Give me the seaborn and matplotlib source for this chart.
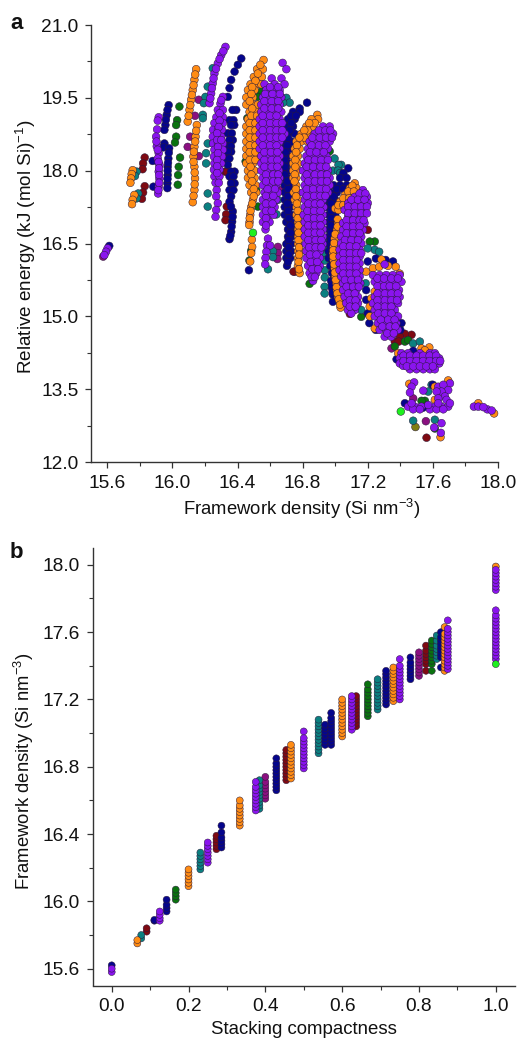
import matplotlib
matplotlib.use("Agg")
import matplotlib.pyplot as plt
from matplotlib.ticker import MultipleLocator
import pandas as pd
import seaborn as sns

sns.set_style("ticks")
plt.rcParams['font.family'] = ['Liberation Sans', 'DejaVu Sans']
plt.rcParams['mathtext.fontset'] = 'custom'
plt.rcParams['mathtext.rm'] = 'Liberation Sans'
plt.rcParams['mathtext.default'] = 'regular'
plt.rcParams['axes.unicode_minus'] = True

series_order = ['darkred', 'magenta', 'olive', 'green', 'teal', 'navy', 'orange', 'purple', 'lime']
palette = {'darkred': '#7E0A12', 'magenta': '#8A1080', 'olive': '#7F7F14', 'green': '#0A720F',
           'teal': '#0B8080', 'navy': '#05058C', 'orange': '#FF8C14', 'purple': '#8A14EE', 'lime': '#1EF01E'}

# Panel a: each row is (relative energy, [framework densities])
a_darkred = [(18.27, [15.83]), (18.15, [15.82]), (18.03, [15.817]), (17.68, [15.83]), (17.55, [15.82]),
             (17.42, [15.813]), (17.98, [16.324, 16.335]), (17.26, [16.334]), (17.1, [16.33]), (16.98, [16.326]),
             (16.67, [16.741]), (15.92, [16.751, 16.744]), (16.78, [17.2]), (15.05, [17.09]),
             (14.62, [17.469]), (14.64, [17.428]), (14.58, [17.397]), (14.48, [17.366, 17.39]), (12.5, [17.561])]
a_magenta = [(19.46, [16.162]), (19.13, [16.139]), (18.7, [16.109]), (18.49, [16.094]), (18.3, [16.162]),
             (16.43, [16.648]), (16.3, [16.648]), (16.18, [16.645]), (17.6, [16.659]), (18.94, [16.7]),
             (14.34, [17.346]), (13.31, [17.479]), (12.84, [17.557]), (16.23, [15.575])]
a_olive = [(12.72, [17.493])]
a_green = [(19.32, [16.043]), (19.04, [16.029]), (18.94, [16.023]), (18.7, [16.023]), (18.58, [16.016]),
           (18.27, [16.047]), (18.08, [16.039]), (17.91, [16.035]), (17.71, [16.033]),
           (19.63, [16.546]), (19.52, [16.523]), (19.08, [16.46]), (18.19, [16.45]), (17.26, [16.525]),
           (17.6, [16.515]), (16.35, [16.484]), (16.15, [16.473]), (18.4, [16.966]), (15.67, [16.843]),
           (16.54, [17.243, 17.212]), (14.99, [17.16]), (14.38, [17.366]), (14.48, [17.428]), (14.51, [17.448]),
           (13.26, [17.551, 17.53]), (12.69, [17.612])]
a_teal = [(17.98, [15.78]), (17.89, [15.77]), (17.53, [15.79]), (17.43, [15.78]), (19.15, [16.187]), (19.08, [16.187]),
          (20.11, [16.248]), (19.73, [16.217]), (19.52, [16.203]), (19.39, [16.193]), (18.56, [16.217]),
          (18.36, [16.207]), (18.15, [16.207]), (17.53, [16.217]), (17.26, [16.217]),
          (16.34, [16.618]), (16.22, [16.618]), (15.97, [16.587]), (19.5, [16.669, 16.7]), (19.4, [16.72, 16.68]),
          (17.4, [16.648]), (17.1, [16.64]), (18.25, [16.996]), (18.12, [17.037, 17.02]), (18.0, [16.986, 17.017]),
          (17.95, [17.03]), (17.3, [16.956]), (16.5, [16.936]), (16.3, [16.936]), (16.15, [16.936]), (15.95, [16.936]),
          (15.8, [16.936]), (15.61, [16.935]), (15.47, [16.935]), (16.43, [16.935]), (17.33, [16.976]), (16.37, [17.243]),
          (16.33, [17.27]), (16.4, [17.2]), (15.68, [17.187]), (15.13, [17.16]), (14.44, [17.479]), (14.48, [17.52]),
          (13.59, [17.592]), (13.45, [17.571]), (12.85, [17.479]), (12.87, [17.612])]
a_navy = [(16.45, [15.612]), (19.35, [15.977]), (19.15, [15.965]), (18.94, [15.957]), (18.84, [15.951]), (18.56, [15.951]),
          (18.48, [15.945]), (18.46, [15.98]), (18.25, [15.975]), (18.08, [15.971]), (17.91, [15.971]), (17.74, [15.969]),
          (17.64, [15.969]), (18.2, [15.879]), (17.67, [15.883]),
          (20.31, [16.423]), (20.18, [16.402]), (20.04, [16.382]), (19.87, [16.361]), (19.7, [16.351]), (19.52, [16.34]),
          (19.25, [16.392, 16.37]), (19.04, [16.351, 16.375]), (18.94, [16.38, 16.36]), (18.77, [16.34, 16.365]),
          (18.63, [16.371, 16.35]), (18.5, [16.34, 16.36]), (18.39, [16.361, 16.34]), (18.25, [16.33, 16.35]),
          (18.12, [16.34]), (17.98, [16.382, 16.36]), (17.88, [16.351, 16.375]), (17.74, [16.382, 16.36]),
          (17.6, [16.351, 16.375]), (17.47, [16.361]), (17.36, [16.351]), (17.16, [16.371]), (16.95, [16.367]),
          (16.74, [16.361]), (16.59, [16.351]), (15.95, [16.47]),
          (19.4, [16.827]), (19.28, [16.782]), (19.21, [16.741, 16.782]), (19.06, [16.71, 16.751]), (18.91, [16.7, 16.741]),
          (18.76, [16.71, 16.751]), (18.6, [16.69, 16.73]), (18.45, [16.679, 16.72]), (18.3, [16.669, 16.71]),
          (18.15, [16.669, 16.71]), (18.0, [16.669, 16.71]), (17.85, [16.669, 16.71, 16.741]), (17.7, [16.69, 16.73]),
          (17.55, [16.69, 16.73]), (17.4, [16.69, 16.72]), (17.25, [16.69, 16.724]), (17.09, [16.69, 16.73]),
          (16.94, [16.7, 16.73]), (16.79, [16.71, 16.741]), (16.64, [16.71, 16.73]), (16.49, [16.7, 16.73]),
          (16.34, [16.7, 16.73]), (16.2, [16.7, 16.724]), (16.04, [16.704]),
          (18.05, [17.08]), (17.95, [17.05]), (17.85, [17.03, 17.07]), (17.7, [16.99, 17.03, 17.07]), (17.55, [16.97, 17.01]),
          (17.4, [16.96, 17.0]), (17.25, [16.95, 16.99]), (17.09, [16.96, 17.0]), (16.94, [16.96, 16.99]),
          (16.79, [16.96, 16.99]), (16.64, [16.96, 16.99]), (16.49, [16.96, 16.99]), (16.34, [16.96, 16.99]),
          (16.2, [16.96, 16.99]), (16.04, [16.97, 17.0]), (15.89, [16.98, 17.01]), (15.73, [16.975]), (15.58, [16.98]),
          (15.45, [16.985]), (15.3, [16.986]),
          (16.13, [17.2, 17.355]), (16.19, [17.25]), (16.16, [17.31]), (15.54, [17.19]), (15.34, [17.19]), (15.06, [17.2]),
          (14.86, [17.21, 17.407]), (14.72, [17.25, 17.4]), (14.29, [17.479]), (14.115, [17.377]),
          (13.59, [17.6]), (13.21, [17.428]), (13.12, [17.54])]
a_navy_fill = [(19.25, [15.97]), (19.05, [15.96]), (18.37, [15.978]), (18.16, [15.973]), (18.0, [15.971]), (17.83, [15.97]),
               (17.26, [16.36]), (17.05, [16.37]), (16.85, [16.364]), (16.66, [16.356]),
               (19.13, [16.73, 16.76]), (18.98, [16.73]), (18.83, [16.72]), (18.68, [16.71]), (18.52, [16.705]), (18.38, [16.695]),
               (18.22, [16.69]), (18.08, [16.69]), (17.92, [16.69]), (17.78, [16.705]), (17.62, [16.71]), (17.47, [16.71]),
               (17.32, [16.705]), (17.17, [16.71]), (17.02, [16.715]), (16.87, [16.725]), (16.72, [16.725]), (16.57, [16.715]),
               (16.42, [16.715]), (16.27, [16.715]), (16.12, [16.71]),
               (17.62, [17.01, 17.05]), (17.47, [16.99]), (17.32, [16.975]), (17.17, [16.975]), (17.02, [16.975]), (16.87, [16.975]),
               (16.72, [16.975]), (16.57, [16.975]), (16.42, [16.975]), (16.27, [16.975]), (16.12, [16.985]), (15.97, [16.99]),
               (15.81, [16.995]), (15.65, [16.98]), (15.5, [16.985])]
a_orange = [(18.01, [15.756]), (17.93, [15.75]), (17.84, [15.746]), (17.75, [15.742]), (17.5, [15.766]), (17.4, [15.756]),
            (17.31, [15.752]),
            (20.09, [16.146]), (19.87, [16.135]), (19.66, [16.125]), (19.46, [16.115]), (19.25, [16.105]), (19.01, [16.094]),
            (18.94, [16.15]), (18.7, [16.142]), (18.49, [16.135]), (18.29, [16.129]), (18.08, [16.135]), (17.84, [16.139]),
            (17.6, [16.135]), (17.35, [16.125]),
            (20.28, [16.56]), (20.09, [16.52, 16.556]), (19.93, [16.5, 16.55]), (19.78, [16.48, 16.52, 16.545]),
            (19.66, [16.464, 16.505]), (19.51, [16.454, 16.495]), (19.36, [16.454, 16.495, 16.525]), (19.21, [16.474, 16.515]),
            (19.06, [16.464, 16.505, 16.536]), (18.91, [16.454, 16.495, 16.525]), (18.76, [16.454, 16.495]),
            (18.6, [16.454, 16.495, 16.525]), (18.45, [16.454, 16.495, 16.525]), (18.3, [16.454, 16.495, 16.525]),
            (18.15, [16.454, 16.495]), (18.0, [16.464, 16.505]), (17.85, [16.464, 16.505]), (17.7, [16.474, 16.511]),
            (17.55, [16.484, 16.515]), (17.4, [16.495]), (17.25, [16.484]), (17.09, [16.478]), (16.94, [16.474]),
            (16.58, [16.488]), (16.43, [16.49]), (16.3, [16.484]), (16.13, [16.478]),
            (19.15, [16.89]), (19.06, [16.895, 16.854]), (18.91, [16.864, 16.823]), (18.76, [16.833, 16.792]),
            (18.6, [16.792, 16.761, 16.83]), (18.45, [16.782, 16.751]), (18.3, [16.771, 16.741]), (18.15, [16.771, 16.741]),
            (18.0, [16.771, 16.741]), (17.85, [16.761, 16.741]), (17.7, [16.761]), (17.55, [16.771, 16.745]),
            (17.4, [16.771, 16.751]), (17.25, [16.761]), (17.09, [16.761, 16.782]), (16.94, [16.771]), (16.79, [16.771]),
            (16.64, [16.771]), (16.49, [16.771]), (16.34, [16.771, 16.786]), (16.2, [16.771]), (16.04, [16.771]), (15.89, [16.782]),
            (17.74, [17.12]), (17.64, [17.09, 17.13]), (17.5, [17.06, 17.1]), (17.36, [17.03, 17.07]), (17.22, [17.0]), (17.19, [17.02]),
            (16.92, [17.017]), (16.78, [17.01]), (16.6, [16.996]), (16.43, [16.99]), (16.3, [16.986]), (16.16, [16.99]),
            (15.99, [16.996]), (15.82, [17.0]), (15.68, [17.007]), (15.54, [17.01]), (15.4, [17.017]), (15.3, [17.027]), (15.18, [17.033]),
            (16.17, [17.284]), (15.92, [17.19]), (15.99, [17.232]), (16.02, [17.27, 17.372]), (16.04, [17.325]), (15.88, [17.396]),
            (15.56, [17.284]), (15.51, [17.243]), (15.37, [17.222]), (15.2, [17.212]), (15.0, [17.212]), (14.75, [17.243]),
            (14.24, [17.387]), (14.34, [17.53]), (14.36, [17.578]), (14.3, [17.55]),
            (13.61, [17.455]), (13.68, [17.694]), (13.55, [17.612]), (13.28, [17.612]), (13.21, [17.879]), (13.0, [17.976]),
            (12.51, [17.647])]
a_orange_fill = [(19.98, [16.14]), (19.76, [16.13]), (19.56, [16.12]), (19.35, [16.11]), (19.13, [16.10]), (18.82, [16.146]), (18.6, [16.14]),
                 (18.39, [16.132]), (18.18, [16.13]), (17.96, [16.137]), (17.72, [16.137]), (17.48, [16.13]),
                 (20.18, [16.54]), (20.0, [16.525]), (19.85, [16.51]), (19.72, [16.49]), (19.58, [16.485]), (19.43, [16.475]),
                 (19.28, [16.49]), (19.13, [16.485, 16.52]), (18.98, [16.475, 16.51]), (18.83, [16.475, 16.51]), (18.68, [16.475, 16.51]),
                 (18.52, [16.475, 16.51]), (18.38, [16.475, 16.51]), (18.22, [16.475, 16.51]), (18.08, [16.48]), (17.92, [16.485]),
                 (17.78, [16.49]), (17.62, [16.5]), (17.47, [16.5]), (17.32, [16.49]), (17.17, [16.48]), (17.02, [16.475]), (16.88, [16.472]),
                 (18.98, [16.875, 16.84]), (18.83, [16.83, 16.81]), (18.68, [16.81, 16.78]), (18.52, [16.765]), (18.38, [16.76]),
                 (18.22, [16.755]), (18.08, [16.755]), (17.92, [16.752]), (17.78, [16.75]), (17.62, [16.758]), (17.47, [16.76]),
                 (17.32, [16.765]), (17.17, [16.77]), (17.02, [16.77]), (16.87, [16.775]), (16.72, [16.775]), (16.57, [16.775]),
                 (16.42, [16.778]), (16.27, [16.778]), (16.12, [16.775]), (15.97, [16.778]),
                 (17.69, [17.105]), (17.57, [17.08, 17.115]), (17.43, [17.05, 17.085]), (17.29, [17.02, 17.05]), (17.0, [17.015]),
                 (16.85, [17.015]), (16.69, [17.0]), (16.51, [16.993]), (16.36, [16.988]), (16.23, [16.988]), (16.07, [16.993]),
                 (15.9, [16.998]), (15.75, [17.003]), (15.6, [17.008]), (15.47, [17.013]), (15.35, [17.022]), (15.24, [17.03])]
a_purple = [(16.4, [15.602]), (16.33, [15.592]), (16.26, [15.582]),
            (19.1, [15.916]), (19.03, [15.91]), (18.85, [15.906]), (18.7, [15.9]), (18.5, [15.904]), (18.36, [15.916]),
            (18.25, [15.91]), (18.12, [15.92]), (17.98, [15.916]), (17.84, [15.92]), (17.67, [15.916]), (17.53, [15.912]),
            (20.55, [16.326]), (20.38, [16.3]), (20.21, [16.279]), (20.0, [16.258]), (19.8, [16.248]), (19.59, [16.238]), (19.39, [16.228]),
            (19.52, [16.31]), (19.38, [16.295]), (19.25, [16.279, 16.31]), (19.1, [16.27, 16.31]), (18.98, [16.258, 16.31]),
            (18.84, [16.25, 16.28, 16.305]), (18.7, [16.248, 16.3]), (18.56, [16.25, 16.28, 16.31]), (18.43, [16.258, 16.31]),
            (18.29, [16.255, 16.285, 16.305]), (18.15, [16.258, 16.3]), (18.02, [16.255, 16.29]), (17.88, [16.258, 16.289]),
            (17.75, [16.265, 16.285]), (17.6, [16.272]), (17.47, [16.269]), (17.33, [16.279]), (17.19, [16.269]), (17.05, [16.265]),
            (20.22, [16.677]), (20.09, [16.7]), (19.9, [16.61, 16.67]), (19.78, [16.566, 16.628, 16.689]),
            (19.66, [16.577, 16.618, 16.659]), (19.51, [16.556, 16.597, 16.638, 16.669]), (19.36, [16.546, 16.587, 16.628, 16.659]),
            (19.21, [16.546, 16.587, 16.628, 16.669]), (19.06, [16.536, 16.577, 16.618, 16.659]),
            (18.91, [16.536, 16.577, 16.618, 16.659]), (18.76, [16.536, 16.577, 16.618, 16.659, 16.69]),
            (18.6, [16.536, 16.577, 16.618, 16.659]), (18.45, [16.536, 16.577, 16.618, 16.659]),
            (18.3, [16.546, 16.587, 16.628, 16.659]), (18.15, [16.546, 16.587, 16.628, 16.659]),
            (18.0, [16.546, 16.587, 16.628, 16.655]), (17.85, [16.556, 16.597, 16.638, 16.659]), (17.7, [16.556, 16.597, 16.638]),
            (17.55, [16.566, 16.608, 16.648]), (17.4, [16.556, 16.597, 16.638]), (17.25, [16.556, 16.597, 16.628]),
            (17.09, [16.556, 16.597, 16.622]), (16.94, [16.556, 16.597]), (16.79, [16.572]),
            (16.6, [16.587]), (16.46, [16.581, 16.6]), (16.33, [16.577]), (16.2, [16.572]), (16.07, [16.57]),
            (18.91, [16.925, 16.966]), (18.76, [16.874, 16.915, 16.956, 16.987]), (18.6, [16.843, 16.884, 16.925, 16.966]),
            (18.45, [16.833, 16.874, 16.915, 16.956]), (18.3, [16.823, 16.864, 16.905, 16.946]),
            (18.15, [16.813, 16.854, 16.895, 16.936]), (18.0, [16.802, 16.843, 16.884, 16.925, 16.956]),
            (17.85, [16.813, 16.854, 16.895, 16.936, 16.966]), (17.7, [16.813, 16.854, 16.895, 16.936, 16.966]),
            (17.55, [16.802, 16.843, 16.884, 16.925, 16.956]), (17.4, [16.813, 16.854, 16.895, 16.925]),
            (17.25, [16.813, 16.854, 16.895, 16.929]), (17.09, [16.806, 16.847, 16.888, 16.925]),
            (16.94, [16.813, 16.854, 16.895, 16.925]), (16.79, [16.813, 16.854, 16.895, 16.925]),
            (16.64, [16.813, 16.854, 16.895, 16.925]), (16.49, [16.819, 16.86, 16.901, 16.925]),
            (16.34, [16.823, 16.864, 16.905]), (16.2, [16.823, 16.864, 16.905]), (16.04, [16.833, 16.874, 16.905]),
            (15.89, [16.843, 16.884]), (15.73, [16.864]),
            (17.6, [17.17]), (17.46, [17.12, 17.16, 17.195]), (17.33, [17.08, 17.12, 17.16, 17.2]),
            (17.19, [17.058, 17.1, 17.14, 17.18]), (17.05, [17.08, 17.12, 17.16]), (16.92, [17.048, 17.09, 17.13, 17.18]),
            (16.78, [17.048, 17.09, 17.13, 17.17]), (16.64, [17.037, 17.078, 17.12, 17.16]), (16.5, [17.037, 17.078, 17.12, 17.16]),
            (16.37, [17.027, 17.068, 17.109, 17.15]), (16.23, [17.027, 17.068, 17.109, 17.15]),
            (16.09, [17.027, 17.068, 17.109, 17.15]), (15.95, [17.027, 17.068, 17.109, 17.15]),
            (15.82, [17.037, 17.078, 17.12, 17.15]), (15.68, [17.048, 17.089, 17.13, 17.154]), (15.54, [17.048, 17.089, 17.13]),
            (15.4, [17.058, 17.099, 17.14]), (15.27, [17.068, 17.109, 17.14]), (15.13, [17.078, 17.12]), (15.06, [17.099]),
            (16.07, [17.304]), (15.85, [17.232, 17.273, 17.314, 17.355, 17.396]), (15.71, [17.243, 17.284, 17.325, 17.366, 17.407]),
            (15.54, [17.273, 17.314, 17.355, 17.392]), (15.4, [17.243, 17.284, 17.325, 17.366, 17.396]),
            (15.27, [17.232, 17.273, 17.314, 17.355, 17.386]), (15.13, [17.243, 17.284, 17.325, 17.366]),
            (15.0, [17.243, 17.284, 17.325, 17.366, 17.386]), (14.86, [17.263, 17.304, 17.345, 17.376]),
            (14.72, [17.273, 17.314, 17.355, 17.386]), (14.58, [17.304, 17.345]),
            (14.24, [17.407, 17.448, 17.52, 17.582, 17.612]), (14.135, [17.397, 17.438, 17.479, 17.52, 17.561, 17.602, 17.639]),
            (14.03, [17.397, 17.438, 17.479, 17.52, 17.561, 17.602, 17.639]), (13.98, [17.418]),
            (13.91, [17.459, 17.5, 17.541, 17.582, 17.612]),
            (13.64, [17.485]), (13.55, [17.469, 17.633]), (13.43, [17.459]), (13.47, [17.541]), (13.62, [17.705]), (13.59, [17.664]),
            (13.48, [17.694]), (13.45, [17.653, 17.623]), (13.35, [17.674]), (13.31, [17.633]), (13.28, [17.684]),
            (13.14, [17.448, 17.489, 17.53, 17.612, 17.653, 17.694, 17.852, 17.879]), (13.085, [17.479, 17.52, 17.582, 17.623, 17.664, 17.934]),
            (13.175, [17.571]), (13.21, [17.469, 17.633, 17.705]), (13.13, [17.91]), (13.06, [17.961]),
            (12.71, [17.608]), (12.8, [17.653]), (12.6, [17.649])]
a_purple_fill = [(20.46, [16.313]), (20.3, [16.29]), (20.1, [16.268]), (19.9, [16.253]), (19.7, [16.243]), (19.49, [16.233]),
                 (18.6, [15.902]), (18.43, [15.91]), (18.18, [15.915]), (18.05, [15.918]), (17.91, [15.918]), (17.75, [15.918]), (17.6, [15.914]),
                 (19.45, [16.3]), (19.18, [16.29]), (19.03, [16.29]), (18.9, [16.285]), (18.77, [16.275]), (18.63, [16.275, 16.3]),
                 (18.49, [16.28]), (18.36, [16.28]), (18.22, [16.275]), (18.09, [16.275]), (17.95, [16.275]),
                 (19.72, [16.6, 16.65]), (19.58, [16.57, 16.615, 16.66]), (19.43, [16.565, 16.61, 16.65]), (19.28, [16.565, 16.61, 16.65]),
                 (19.13, [16.555, 16.6, 16.64]), (18.98, [16.555, 16.6, 16.64, 16.675]), (18.83, [16.555, 16.6, 16.64, 16.675]),
                 (18.68, [16.555, 16.6, 16.64, 16.675]), (18.52, [16.555, 16.6, 16.64]), (18.38, [16.565, 16.605, 16.645]),
                 (18.22, [16.565, 16.61, 16.645]), (18.08, [16.565, 16.61, 16.645]), (17.92, [16.575, 16.62, 16.65]),
                 (17.78, [16.575, 16.62, 16.65]), (17.62, [16.585, 16.63]), (17.48, [16.575, 16.62]), (17.32, [16.575, 16.615]),
                 (17.17, [16.575, 16.61]), (17.02, [16.575]), (16.87, [16.575]),
                 (18.83, [16.9, 16.94, 16.97]), (18.68, [16.86, 16.905, 16.945, 16.98]), (18.52, [16.855, 16.9, 16.94]),
                 (18.38, [16.845, 16.885, 16.93]), (18.22, [16.835, 16.875, 16.915, 16.955]), (18.08, [16.825, 16.865, 16.91, 16.945]),
                 (17.92, [16.825, 16.875, 16.915, 16.95]), (17.78, [16.835, 16.875, 16.915, 16.95]), (17.62, [16.825, 16.865, 16.91, 16.945]),
                 (17.48, [16.825, 16.87, 16.91, 16.94]), (17.32, [16.835, 16.875, 16.91]), (17.17, [16.83, 16.87, 16.91]),
                 (17.02, [16.83, 16.87, 16.91]), (16.87, [16.835, 16.875, 16.91]), (16.72, [16.835, 16.875, 16.91]),
                 (16.57, [16.835, 16.88, 16.915]), (16.42, [16.84, 16.88, 16.915]), (16.27, [16.845, 16.885]), (16.12, [16.85, 16.89]),
                 (15.97, [16.86, 16.895]), (15.81, [16.855, 16.875]),
                 (17.53, [17.15, 17.185]), (17.4, [17.1, 17.14, 17.18]), (17.26, [17.08, 17.12, 17.16, 17.195]),
                 (17.12, [17.08, 17.12, 17.16, 17.195]), (16.98, [17.07, 17.11, 17.15, 17.175]), (16.85, [17.07, 17.11, 17.15]),
                 (16.71, [17.07, 17.11, 17.15]), (16.57, [17.06, 17.1, 17.14]), (16.44, [17.05, 17.09, 17.13]),
                 (16.3, [17.05, 17.09, 17.13, 17.16]), (16.16, [17.05, 17.09, 17.13]), (16.02, [17.05, 17.09, 17.13]),
                 (15.88, [17.05, 17.09, 17.13]), (15.75, [17.06, 17.1, 17.14]), (15.61, [17.07, 17.11, 17.145]), (15.47, [17.08, 17.12]),
                 (15.33, [17.09, 17.125]), (15.2, [17.09, 17.125]),
                 (15.78, [17.26, 17.3, 17.345, 17.385]), (15.62, [17.26, 17.3, 17.335, 17.375]), (15.47, [17.26, 17.305, 17.345, 17.385]),
                 (15.33, [17.26, 17.305, 17.345, 17.38]), (15.2, [17.26, 17.305, 17.345]), (15.06, [17.265, 17.305, 17.345]),
                 (14.93, [17.28, 17.325, 17.365]), (14.79, [17.29, 17.335, 17.37]), (14.65, [17.32, 17.36]),
                 (14.19, [17.42, 17.46, 17.5, 17.54, 17.58, 17.62]), (14.08, [17.42, 17.46, 17.5, 17.54, 17.58, 17.62, 17.645]),
                 (13.97, [17.44, 17.48, 17.52, 17.56, 17.6])]
a_lime = [(16.72, [16.495]), (13.04, [17.403])]

# Panel b: each entry is (stacking compactness, [framework densities])
b_darkred = [(0.0909, [15.82, 15.84]), (0.2727, [16.31, 16.33, 16.35, 16.37, 16.39]),
             (0.4545, [16.72, 16.74, 16.76, 16.78, 16.8, 16.82, 16.84, 16.86, 16.88, 16.9]),
             (0.6364, [17.04, 17.06, 17.08, 17.1, 17.12, 17.14, 17.16, 17.18, 17.2, 17.22]),
             (0.8182, [17.37, 17.41, 17.43, 17.45, 17.47, 17.49, 17.52])]
b_magenta = [(0.4, [16.61, 16.63, 16.65, 16.67, 16.69, 16.71, 16.74]), (0.8, [17.34, 17.36, 17.38, 17.4, 17.42, 17.44, 17.46, 17.48])]
b_green = [(0.1667, [16.01, 16.03, 16.05, 16.07]), (0.6667, [17.1, 17.12, 17.14, 17.16, 17.18, 17.2, 17.22, 17.24, 17.26, 17.29]),
           (0.8333, [17.37, 17.41, 17.43, 17.45, 17.47, 17.49, 17.51, 17.53, 17.55])]
b_teal = [(0.0769, [15.78, 15.8]), (0.2308, [16.19, 16.21, 16.23, 16.25, 16.27, 16.29]),
          (0.3846, [16.55, 16.57, 16.59, 16.61, 16.63, 16.65, 16.67, 16.69, 16.72]),
          (0.5385, [16.88, 16.9, 16.92, 16.94, 16.96, 16.98, 17.0, 17.02, 17.04, 17.06, 17.08]),
          (0.6923, [17.14, 17.16, 17.18, 17.2, 17.22, 17.24, 17.26, 17.28, 17.3, 17.32]),
          (0.8462, [17.44, 17.46, 17.48, 17.5, 17.52, 17.55, 17.58])]
b_navy = [(0.0, [15.62]), (0.1111, [15.885, 15.89]), (0.1429, [15.94, 15.96, 15.98, 16.01]), (0.2857, [16.32, 16.34, 16.36, 16.38, 16.41, 16.45]),
          (0.4286, [16.66, 16.68, 16.7, 16.72, 16.74, 16.76, 16.78, 16.8, 16.82, 16.85]), (0.5556, [16.93, 16.95, 16.97, 16.99, 17.01, 17.03, 17.05]),
          (0.5714, [16.93, 16.95, 16.97, 16.99, 17.01, 17.03, 17.05, 17.07, 17.09, 17.12]),
          (0.7143, [17.17, 17.19, 17.21, 17.23, 17.25, 17.27, 17.29, 17.31, 17.33, 17.35, 17.37]),
          (0.7778, [17.32, 17.34, 17.36, 17.38, 17.4, 17.42, 17.45]), (0.8571, [17.39, 17.45, 17.47, 17.49, 17.51, 17.53, 17.55, 17.57, 17.6])]
b_orange = [(0.0667, [15.75, 15.77]), (0.2, [16.09, 16.11, 16.13, 16.15, 16.17, 16.19]),
            (0.3333, [16.45, 16.47, 16.49, 16.51, 16.53, 16.55, 16.57, 16.6]),
            (0.4667, [16.73, 16.75, 16.77, 16.79, 16.81, 16.83, 16.85, 16.87, 16.89, 16.91, 16.93]),
            (0.6, [16.98, 17.0, 17.02, 17.04, 17.06, 17.08, 17.1, 17.12, 17.14, 17.16, 17.18, 17.2]),
            (0.7333, [17.19, 17.21, 17.23, 17.25, 17.27, 17.29, 17.31, 17.33, 17.35, 17.37, 17.39]),
            (0.8667, [17.37, 17.39, 17.41, 17.43, 17.45, 17.47, 17.49, 17.51, 17.53, 17.55, 17.57, 17.59, 17.63]), (1.0, [17.99])]
b_purple = [(0.0, [15.58, 15.6]), (0.125, [15.885, 15.9, 15.92, 15.94]), (0.25, [16.23, 16.25, 16.27, 16.29, 16.31, 16.33, 16.35]),
            (0.375, [16.54, 16.56, 16.58, 16.6, 16.62, 16.64, 16.66, 16.68, 16.71]),
            (0.5, [16.79, 16.81, 16.83, 16.85, 16.87, 16.89, 16.91, 16.93, 16.95, 16.97, 17.01]),
            (0.625, [17.02, 17.04, 17.06, 17.08, 17.1, 17.12, 17.14, 17.16, 17.18, 17.2, 17.22]),
            (0.75, [17.2, 17.22, 17.24, 17.26, 17.28, 17.3, 17.32, 17.34, 17.36, 17.38, 17.4, 17.44]),
            (0.875, [17.38, 17.4, 17.42, 17.44, 17.46, 17.48, 17.5, 17.52, 17.54, 17.56, 17.58, 17.6, 17.62, 17.67]),
            (1.0, [17.85, 17.87, 17.89, 17.91, 17.93, 17.95, 17.97, 17.44, 17.46, 17.48, 17.5, 17.52, 17.54, 17.56, 17.58, 17.6,
                   17.62, 17.64, 17.66, 17.68, 17.7, 17.73])]
b_lime = [(1.0, [17.41])]

a_rows = {'darkred': a_darkred, 'magenta': a_magenta, 'olive': a_olive, 'green': a_green, 'teal': a_teal,
          'navy': a_navy + a_navy_fill, 'orange': a_orange + a_orange_fill, 'purple': a_purple + a_purple_fill, 'lime': a_lime}
b_rows = {'darkred': b_darkred, 'magenta': b_magenta, 'green': b_green, 'teal': b_teal, 'navy': b_navy,
          'orange': b_orange, 'purple': b_purple, 'lime': b_lime}

records_a = [(name, x, row_y) for name in series_order if name in a_rows
             for row_y, xs in a_rows[name] for x in xs]
records_b = [(name, row_x, y) for name in series_order if name in b_rows
             for row_x, ys in b_rows[name] for y in ys]
df_a = pd.DataFrame(records_a, columns=['series', 'density', 'energy'])
df_b = pd.DataFrame(records_b, columns=['series', 'compactness', 'density'])

W, H = 517, 1038
fig = plt.figure(figsize=(W / 100, H / 100), dpi=100)


def make_axes(l, r, t, b):
    return fig.add_axes([l / W, 1 - b / H, (r - l) / W, (b - t) / H])


ax_a = make_axes(91, 498, 25, 462)
ax_b = make_axes(92.5, 515, 548, 985.5)

sns.scatterplot(data=df_a, x='density', y='energy', hue='series', palette=palette, s=31, linewidth=0.35,
                edgecolor='#2a1a3a', legend=False, ax=ax_a, clip_on=False, zorder=3)
sns.scatterplot(data=df_b, x='compactness', y='density', hue='series', palette=palette, s=25, linewidth=0.35,
                edgecolor='#2a1a3a', legend=False, ax=ax_b, clip_on=False, zorder=3)

ax_a.set_xlim(15.5, 18.0)
ax_a.set_ylim(12.0, 21.0)
ax_b.set_xlim(-0.05, 1.05)
ax_b.set_ylim(15.5, 18.1)

ax_a.set_xticks([15.6, 16.0, 16.4, 16.8, 17.2, 17.6, 18.0])
ax_a.set_xticks([15.8, 16.2, 16.6, 17.0, 17.4, 17.8], minor=True)
ax_a.yaxis.set_major_locator(MultipleLocator(1.5))
ax_a.yaxis.set_minor_locator(MultipleLocator(0.75))
ax_b.xaxis.set_major_locator(MultipleLocator(0.2))
ax_b.xaxis.set_minor_locator(MultipleLocator(0.1))
ax_b.set_yticks([15.6, 16.0, 16.4, 16.8, 17.2, 17.6, 18.0])
ax_b.set_yticks([15.8, 16.2, 16.6, 17.0, 17.4, 17.8], minor=True)
ax_a.xaxis.set_major_formatter('{x:.1f}')
ax_a.yaxis.set_major_formatter('{x:.1f}')
ax_b.xaxis.set_major_formatter('{x:.1f}')
ax_b.yaxis.set_major_formatter('{x:.1f}')

for ax in (ax_a, ax_b):
    sns.despine(ax=ax)
    for side in ('left', 'bottom'):
        ax.spines[side].set_linewidth(1.0)
        ax.spines[side].set_color('#333333')
    ax.tick_params(axis='both', which='major', length=4, width=0.9, color='#333333', labelsize=13.8,
                   labelcolor='#111111', pad=5)
    ax.tick_params(axis='both', which='minor', length=2.6, width=0.8, color='#333333')

ax_a.set_xlabel('Framework density (Si nm$^{-3}$)', fontsize=13.3, color='#111111', labelpad=4, x=0.518)
ax_a.set_ylabel('Relative energy (kJ (mol Si)$^{-1}$)', fontsize=13.6, color='#111111', labelpad=2.5, y=0.4925)
ax_b.set_xlabel('Stacking compactness', fontsize=13.4, color='#111111', labelpad=4.5, x=0.5)
ax_b.set_ylabel('Framework density (Si nm$^{-3}$)', fontsize=13.3, color='#111111', labelpad=4.5, y=0.49)

fig.text(10 / W, 1 - 29 / H, 'a', fontsize=16, fontweight='bold', color='#111111')
fig.text(10 / W, 1 - 558 / H, 'b', fontsize=16, fontweight='bold', color='#111111')

fig.savefig('out.png', dpi=100)
